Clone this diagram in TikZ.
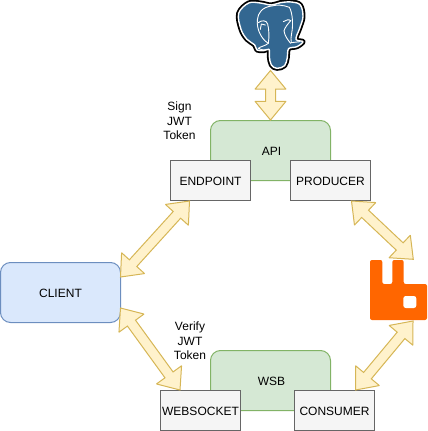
\documentclass[tikz,border=0pt]{standalone}
\usepackage{fontspec}
\setmainfont{Liberation Sans}
\usetikzlibrary{calc}
\definecolor{arrowfill}{HTML}{FFF2CC}
\definecolor{arrowline}{HTML}{D6B656}
\definecolor{greenfill}{HTML}{D5E8D4}
\definecolor{greenline}{HTML}{82B366}
\definecolor{bluefill}{HTML}{DAE8FC}
\definecolor{blueline}{HTML}{6C8EBF}
\definecolor{boxfill}{HTML}{F5F5F5}
\definecolor{boxline}{HTML}{666666}
\definecolor{rabbit}{HTML}{FF6600}
\definecolor{pgblue}{HTML}{336791}
\tikzset{
  basebox/.style={rectangle,minimum width=#1,minimum height=40pt,inner sep=0pt,line width=1pt,font=\fontsize{12}{14.4}\selectfont,text height=9.6pt,text depth=0pt},
  comp/.style={basebox=80pt,draw=boxline,fill=boxfill},
  service/.style={basebox=120pt,minimum height=60pt,rounded corners=10pt,draw=greenline,fill=greenfill},
  clientbox/.style={basebox=120pt,minimum height=60pt,rounded corners=10pt,draw=blueline,fill=bluefill},
  note/.style={align=center,inner sep=0pt,font=\fontsize{12}{14.4}\selectfont},
  fat/.style={draw=arrowline,fill=arrowfill,line width=1pt,line join=miter,miter limit=2},
  pgline/.style={draw=white,line width=0.9pt,line cap=round,line join=round}
}
\newcommand{\fatlink}[2]{%
  \draw[fat] (#1)
    -- ($(#1)!18.7pt!(#2)!15.5pt!90:(#2)$)
    -- ($(#1)!18.7pt!(#2)!5pt!90:(#2)$)
    -- ($(#2)!18.7pt!(#1)!5pt!-90:(#1)$)
    -- ($(#2)!18.7pt!(#1)!15.5pt!-90:(#1)$)
    -- (#2)
    -- ($(#2)!18.7pt!(#1)!15.5pt!90:(#1)$)
    -- ($(#2)!18.7pt!(#1)!5pt!90:(#1)$)
    -- ($(#1)!18.7pt!(#2)!5pt!-90:(#2)$)
    -- ($(#1)!18.7pt!(#2)!15.5pt!-90:(#2)$)
    -- cycle;}
\begin{document}
\begin{tikzpicture}[x=1pt,y=-1pt]
\useasboundingbox (0,0) rectangle (428,431);
% services
\node[service] (api) at (270.5,150.5) {\hspace*{2pt}API};
\node[service] (wsb) at (270.5,380.5) {\hspace*{2pt}WSB};
\node[comp] (endpoint) at (210.5,180.5) {ENDPOINT};
\node[comp] (producer) at (330.5,180.5) {PRODUCER};
\node[comp] (websocket) at (200.5,410.5) {WEBSOCKET};
\node[comp] (consumer) at (334.5,410.5) {CONSUMER};
\node[clientbox] (client) at (60.5,292.5) {CLIENT};
\node[note] (sign) at (179.5,121) {Sign\\JWT\\Token};
\node[note] (verify) at (190,341) {Verify\\JWT\\Token};
% elephant
\begin{scope}[shift={(232,0)},x=0.3333pt,y=-0.3333pt]
  \def\pgshape{plot[smooth cycle,tension=0.6] coordinates {(50,9) (85,9) (118,15) (145,8) (178,6) (205,15) (213,50) (203,85) (192,118) (213,125) (195,140) (170,146) (166,172) (158,197) (135,205) (118,195) (112,170) (111,148) (95,152) (75,150) (68,135) (45,118) (27,88) (20,40)}}
  \draw[black,line width=5pt,fill=black,line join=round] \pgshape;
  \draw[white,line width=1.4pt,fill=pgblue,line join=round] \pgshape;
  \draw[pgline] (172,22) .. controls (150,14) and (135,14) .. (119,18) .. controls (90,22) and (78,38) .. (76,60) .. controls (74,85) and (85,115) .. (109,130);
  \draw[pgline] (172,22) .. controls (182,38) and (184,75) .. (179,100) .. controls (177,112) and (176,122) .. (178,128) -- (204,125);
  \draw[pgline] (79,68) .. controls (88,60) and (104,60) .. (107,72) .. controls (111,88) and (112,110) .. (109,130) .. controls (100,138) and (88,138) .. (79,145) .. controls (90,152) and (104,150) .. (111,148);
  \draw[pgline] (154,65) .. controls (160,60) and (172,57) .. (176,62) .. controls (168,72) and (160,80) .. (156,92) .. controls (158,108) and (168,120) .. (176,130);
  \draw[pgline] (85,88) -- (88,72) -- (100,75);
\end{scope}
% rabbit
\fill[rabbit,rounded corners=2pt] (370,260) -- (382.3,260) -- (382.3,284) -- (392.3,284) -- (392.3,260) -- (403.7,260) -- (403.7,284) -- (427,284) -- (427,320) -- (370,320) -- cycle;
\fill[white,rounded corners=2.5pt] (403.3,296) rectangle (416.3,308);
% link end points
\coordinate (dbend) at (270.5,70.5);
\coordinate (apitop) at (api.north);
\coordinate (e1) at ($(endpoint.south west)+(19.5,0)$);
\coordinate (c1) at (120.5,277);
\coordinate (c2) at (120.5,308);
\coordinate (w1) at ($(websocket.north west)+(20,0)$);
\coordinate (p1) at ($(producer.south east)+(-19.5,0)$);
\coordinate (r1) at (413.3,259.3);
\coordinate (r2) at (413,321);
\coordinate (s1) at ($(consumer.north east)+(-19.5,0)$);
\fatlink{dbend}{apitop}
\fatlink{e1}{c1}
\fatlink{c2}{w1}
\fatlink{p1}{r1}
\fatlink{r2}{s1}
\end{tikzpicture}
\end{document}
